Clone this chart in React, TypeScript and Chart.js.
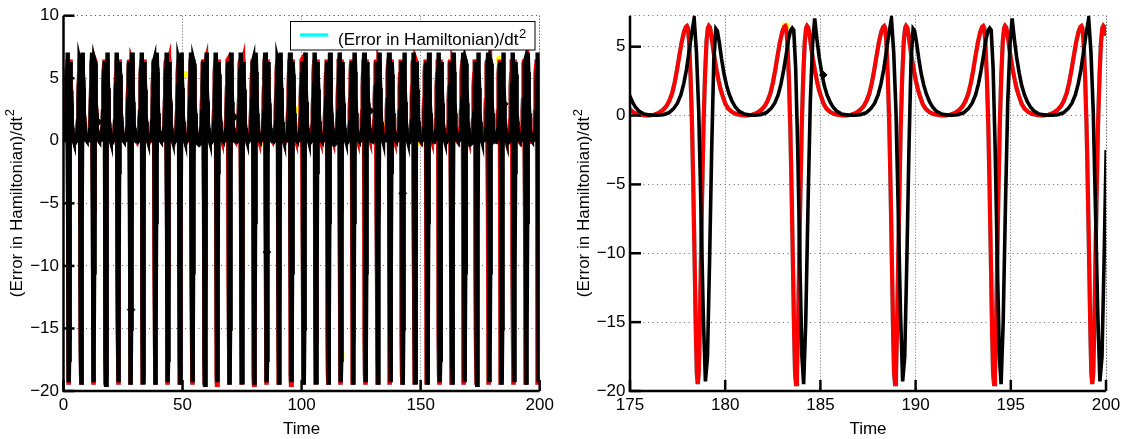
import React, { useEffect, useRef } from "react";
import { Chart, registerables } from "chart.js";

Chart.register(...registerables);

const FONT = "'Liberation Sans', Arial, Helvetica, sans-serif";

// ---- data ----
// times of the deep minimum of each spike (red / cyan method)
const redDips = [2.25, 7.44, 12.62, 17.81, 22.99, 28.18, 33.36, 38.55, 43.73, 48.92, 54.1, 59.29, 64.47, 69.66, 74.84, 80.03, 85.21, 90.4, 95.58, 100.77, 105.95, 111.14, 116.32, 121.51, 126.69, 131.88, 137.06, 142.25, 147.43, 152.62, 157.8, 162.99, 168.17, 173.36, 178.56, 183.72, 188.92, 194.12, 199.28];
// times of the deep minimum of each spike (black method, slowly drifting behind red)
const blackDips = [2.26, 7.46, 12.65, 17.85, 23.04, 28.24, 33.43, 38.63, 43.82, 49.02, 54.21, 59.42, 64.61, 69.81, 75.0, 80.2, 85.39, 90.59, 95.78, 100.98, 106.17, 111.37, 116.56, 121.77, 126.96, 132.16, 137.35, 142.55, 147.74, 152.94, 158.13, 163.33, 168.52, 173.72, 178.99, 184.1, 189.35, 194.47, 199.71];

// shape of one spike (time offset from its minimum, value), red curve
const redShapeT = [-2.55, -2.3, -2.05, -1.85, -1.65, -1.5, -1.35, -1.22, -1.1, -0.98, -0.85, -0.72, -0.62, -0.57, -0.52, -0.46, -0.38, -0.3, -0.23, -0.16, -0.1, -0.05, 0, 0.05, 0.1, 0.16, 0.23, 0.3, 0.38, 0.46, 0.53, 0.58, 0.64, 0.72, 0.8, 0.9, 1.0, 1.1, 1.2, 1.3, 1.45, 1.6, 1.8, 2.0, 2.25, 2.5];
const redShapeV = [0.02, 0.06, 0.18, 0.38, 0.68, 1.05, 1.6, 2.35, 3.25, 4.25, 5.3, 6.1, 6.45, 6.5, 6.35, 5.4, 2.9, -0.8, -5.6, -11, -15.8, -18.7, -19.5, -18.7, -15.8, -11, -5.6, -0.8, 2.9, 5.4, 6.35, 6.5, 6.4, 5.8, 4.9, 4.0, 3.2, 2.5, 1.9, 1.45, 0.85, 0.5, 0.25, 0.12, 0.05, 0.02];
// black curve, spikes alternate between two shapes
const blackShapeAT = [-2.55, -2.25, -1.95, -1.7, -1.5, -1.32, -1.17, -1.03, -0.9, -0.77, -0.62, -0.5, -0.38, -0.26, -0.14, -0.03, 0.08, 0.19, 0.3, 0.41, 0.52, 0.6, 0.7, 0.82, 0.95, 1.08, 1.22, 1.38, 1.55, 1.75, 2.0, 2.25, 2.5];
const blackShapeAV = [0.02, 0.06, 0.2, 0.5, 0.9, 1.5, 2.3, 3.3, 4.5, 5.8, 7.05, 4.6, 0.3, -7, -14.5, -19.3, -17.5, -10.5, -2.5, 4.0, 6.3, 6.15, 5.3, 4.1, 3.0, 2.2, 1.55, 1.0, 0.6, 0.3, 0.12, 0.05, 0.02];
const blackShapeBT = [-2.55, -2.25, -1.95, -1.7, -1.5, -1.32, -1.17, -1.03, -0.9, -0.78, -0.66, -0.58, -0.5, -0.4, -0.29, -0.18, -0.07, 0.02, 0.13, 0.25, 0.37, 0.49, 0.6, 0.72, 0.84, 0.97, 1.1, 1.25, 1.4, 1.57, 1.77, 2.0, 2.25, 2.5];
const blackShapeBV = [0.02, 0.06, 0.2, 0.5, 0.9, 1.5, 2.3, 3.3, 4.4, 5.5, 6.2, 6.35, 6.2, 3.5, -2.5, -10.5, -17.5, -19.5, -15, -6.5, 1.0, 5.2, 7.05, 5.5, 4.2, 3.1, 2.2, 1.5, 1.0, 0.6, 0.3, 0.12, 0.05, 0.02];

// sparse markers
const yellowT = [15.3, 50.8, 66.5, 83.3, 99.0, 116.6, 134.4, 150.0, 166.6, 183.18];
const yellowV = [0.45, 5.3, 0.0, -0.1, 2.5, -17.15, 1.25, -0.1, 0.3, 6.5];
const diamondT = [14.6, 28.4, 41.3, 56.9, 71.8, 85.4, 98.2, 113.8, 128.8, 142.5, 170.8, 185.15];
const diamondV = [1.5, -13.5, 0.46, -0.2, 1.9, -8.9, 0.32, -0.2, 2.4, -4.2, -0.2, 2.95];

const leftXTicks = [0, 50, 100, 150, 200];
const leftYTicks = [-20, -15, -10, -5, 0, 5, 10];
const rightXTicks = [175, 180, 185, 190, 195, 200];
const rightYTicks = [-20, -15, -10, -5, 0, 5];

const legendLabel = "(Error in Hamiltonian)/dt";
const supText = "2";
const xTitle = "Time";

type Pt = { x: number; y: number };

function buildCurve(dips: number[], shapes: { t: number[]; v: number[] }[]): Pt[] {
  const pts: Pt[] = [];
  dips.forEach((d, i) => {
    const s = shapes[i % shapes.length];
    s.t.forEach((o, j) => pts.push({ x: d + o, y: s.v[j] }));
  });
  return pts;
}
const zip = (t: number[], v: number[]): Pt[] => t.map((x, i) => ({ x, y: v[i] }));

const fmt = (v: any) => String(v).replace("-", "\u2212");

function drawSup(ctx: CanvasRenderingContext2D, x: number, baseline: number, centered: boolean) {
  ctx.font = `17px ${FONT}`;
  const w1 = ctx.measureText(legendLabel).width;
  ctx.font = `13px ${FONT}`;
  const w2 = ctx.measureText(supText).width;
  const x0 = centered ? x - (w1 + w2) / 2 : x;
  ctx.fillStyle = "#000";
  ctx.textBaseline = "alphabetic";
  ctx.textAlign = "left";
  ctx.font = `17px ${FONT}`;
  ctx.fillText(legendLabel, x0, baseline);
  ctx.font = `13px ${FONT}`;
  ctx.fillText(supText, x0 + w1 + 0.5, baseline - 7.3);
}

interface PanelCfg {
  xMin: number; xMax: number; yMin: number; yMax: number;
  xTicks: number[]; yTicks: number[];
  yAxisWidth: number; padRight: number; yTitleX: number; legend: boolean;
  width: number; redWidth: number; blackWidth: number;
}

const matlabPlugin = {
  id: "matlabAxes",
  beforeDatasetsDraw(chart: any, _a: any, opts: any) {
    const cfg: PanelCfg = opts.cfg;
    const { ctx, chartArea } = chart;
    const { left, right, top, bottom } = chartArea;
    const xs = chart.scales.x;
    const ys = chart.scales.y;
    ctx.save();
    ctx.lineWidth = 1;
    ctx.strokeStyle = "rgba(80,80,80,0.85)";
    ctx.setLineDash([1, 2]);
    const vx = [...cfg.xTicks.map((v) => xs.getPixelForValue(v)), right];
    for (const px of vx) {
      const p = Math.floor(px) + 0.5;
      ctx.beginPath();
      ctx.moveTo(p, top);
      ctx.lineTo(p, bottom);
      ctx.stroke();
    }
    ctx.setLineDash([1, 3.5]);
    const hy = [...cfg.yTicks.map((v) => ys.getPixelForValue(v)), top];
    for (const py of hy) {
      const p = Math.floor(py) + 0.5;
      ctx.beginPath();
      ctx.moveTo(left, p);
      ctx.lineTo(right, p);
      ctx.stroke();
    }
    ctx.restore();
  },
  afterDatasetsDraw(chart: any, _a: any, opts: any) {
    const cfg: PanelCfg = opts.cfg;
    const { ctx, chartArea } = chart;
    const { left, right, top, bottom } = chartArea;
    const xs = chart.scales.x;
    const ys = chart.scales.y;
    ctx.save();
    ctx.setLineDash([]);
    ctx.strokeStyle = "#000";
    ctx.lineWidth = 2.5;
    ctx.lineJoin = "miter";
    ctx.beginPath();
    ctx.moveTo(left, top);
    ctx.lineTo(left, bottom);
    ctx.lineTo(right, bottom);
    ctx.stroke();
    for (const v of cfg.xTicks) {
      const px = xs.getPixelForValue(v);
      ctx.beginPath();
      ctx.moveTo(px, bottom);
      ctx.lineTo(px, bottom - 11);
      ctx.stroke();
    }
    for (const v of cfg.yTicks) {
      const py = ys.getPixelForValue(v);
      ctx.beginPath();
      ctx.moveTo(left, py);
      ctx.lineTo(left + 11, py);
      ctx.stroke();
    }
    // y-axis title
    ctx.save();
    ctx.translate(cfg.yTitleX, (top + bottom) / 2);
    ctx.rotate(-Math.PI / 2);
    drawSup(ctx, 0, 6.1, true);
    ctx.restore();
    // legend
    if (cfg.legend) {
      ctx.fillStyle = "#fff";
      ctx.fillRect(290.5, 21.5, 244.5, 28.5);
      ctx.lineWidth = 1;
      ctx.strokeStyle = "#000";
      ctx.strokeRect(290.5, 21.5, 244.5, 28.5);
      ctx.strokeStyle = "#00ffff";
      ctx.lineWidth = 3.3;
      ctx.beginPath();
      ctx.moveTo(300, 35);
      ctx.lineTo(328.3, 35);
      ctx.stroke();
      drawSup(ctx, 338, 45, false);
    }
    ctx.restore();
  },
};

function buildConfig(cfg: PanelCfg): any {
  const redPts = buildCurve(redDips, [{ t: redShapeT, v: redShapeV }]);
  const blackPts = buildCurve(blackDips, [
    { t: blackShapeAT, v: blackShapeAV },
    { t: blackShapeBT, v: blackShapeBV },
  ]);
  const tickFont = { family: FONT, size: 17 };
  return {
    type: "line",
    data: {
      datasets: [
        {
          label: "diamond markers",
          data: zip(diamondT, diamondV),
          showLine: false,
          pointStyle: "rectRot",
          pointRadius: 3.8,
          pointBackgroundColor: "#000",
          pointBorderColor: "#000",
          pointBorderWidth: 1,
          order: 0,
          clip: 0,
        },
        {
          label: "black",
          data: blackPts,
          borderColor: "#000000",
          borderWidth: cfg.blackWidth,
          pointRadius: 0,
          order: 1,
          clip: 0,
        },
        {
          label: "red",
          data: redPts,
          borderColor: "#ff0000",
          borderWidth: cfg.redWidth,
          pointRadius: 0,
          order: 2,
          clip: 0,
        },
        {
          label: "yellow markers",
          data: zip(yellowT, yellowV),
          showLine: false,
          pointStyle: "rect",
          pointRadius: 4,
          pointBackgroundColor: "#ffff00",
          pointBorderColor: "#ffff00",
          order: 3,
          clip: 0,
        },
        {
          label: legendLabel + "\u00b2",
          data: redPts,
          borderColor: "#00ffff",
          borderWidth: cfg.redWidth,
          pointRadius: 0,
          order: 4,
          clip: 0,
        },
      ],
    },
    options: {
      animation: false,
      responsive: false,
      devicePixelRatio: 1,
      events: [],
      layout: { padding: { left: 0, right: cfg.padRight, top: 15.7, bottom: 0 } },
      elements: { line: { tension: 0 }, point: { radius: 0, hoverRadius: 0 } },
      plugins: {
        legend: { display: false },
        tooltip: { enabled: false },
        matlabAxes: { cfg },
      },
      scales: {
        x: {
          type: "linear",
          min: cfg.xMin,
          max: cfg.xMax,
          afterBuildTicks: (ax: any) => {
            ax.ticks = cfg.xTicks.map((v) => ({ value: v }));
          },
          afterFit: (ax: any) => {
            ax.height = 48;
          },
          grid: { display: false, drawTicks: false },
          border: { display: false },
          ticks: {
            autoSkip: false,
            maxRotation: 0,
            padding: 4.5,
            color: "#000",
            font: tickFont,
            callback: fmt,
          },
          title: {
            display: true,
            text: xTitle,
            color: "#000",
            font: { family: FONT, size: 17 },
            padding: { top: 0, bottom: -0.5 },
          },
        },
        y: {
          type: "linear",
          min: cfg.yMin,
          max: cfg.yMax,
          afterBuildTicks: (ax: any) => {
            ax.ticks = cfg.yTicks.map((v) => ({ value: v }));
          },
          afterFit: (ax: any) => {
            ax.width = cfg.yAxisWidth;
          },
          grid: { display: false, drawTicks: false },
          border: { display: false },
          ticks: {
            autoSkip: false,
            padding: 4.5,
            color: "#000",
            font: tickFont,
            callback: fmt,
          },
        },
      },
    },
    plugins: [matlabPlugin],
  };
}

const leftCfg: PanelCfg = {
  xMin: 0, xMax: 200, yMin: -20, yMax: 10,
  xTicks: leftXTicks, yTicks: leftYTicks,
  yAxisWidth: 63.5, padRight: 25.3, yTitleX: 15.5, legend: true, width: 565,
  redWidth: 4.5, blackWidth: 4.5,
};
const rightCfg: PanelCfg = {
  xMin: 175, xMax: 200, yMin: -20, yMax: 7.25,
  xTicks: rightXTicks, yTicks: rightYTicks,
  yAxisWidth: 65, padRight: 19, yTitleX: 18, legend: false, width: 560,
  redWidth: 4.2, blackWidth: 3.6,
};

function Panel({ cfg, left }: { cfg: PanelCfg; left: number }) {
  const ref = useRef<HTMLCanvasElement | null>(null);
  useEffect(() => {
    const chart = new Chart(ref.current as HTMLCanvasElement, buildConfig(cfg));
    return () => chart.destroy();
  }, []);
  return (
    <canvas
      ref={ref}
      width={cfg.width}
      height={439}
      style={{ position: "absolute", left, top: 0, width: cfg.width, height: 439, display: "block" }}
    />
  );
}

export default function App() {
  return (
    <div style={{ position: "absolute", left: 0, top: 0, width: 1125, height: 439, background: "#fff" }}>
      <Panel cfg={leftCfg} left={0} />
      <Panel cfg={rightCfg} left={565} />
    </div>
  );
}
